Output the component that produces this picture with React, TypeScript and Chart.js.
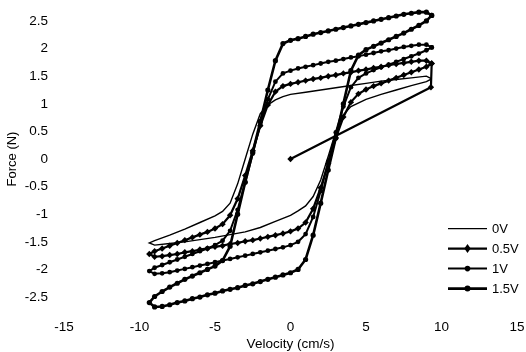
import React, { useEffect, useRef } from 'react';
import { Chart, registerables } from 'chart.js';

Chart.register(...registerables);

const seriesLabels = ['0V', '0.5V', '1V', '1.5V'];
const xTickValues = [-15, -10, -5, 0, 5, 10, 15];
const yTickValues = [-2.5, -2, -1.5, -1, -0.5, 0, 0.5, 1, 1.5, 2, 2.5];

// [velocity (cm/s), force (N)]
const loop0V: [number, number][] = [
  [9.35, 1.45], [9, 1.5], [8, 1.47], [7, 1.44], [6, 1.41], [5, 1.37], [4, 1.33], [3, 1.29], [2, 1.25], [1, 1.21],
  [0, 1.17], [-0.5, 1.13], [-1, 1.07], [-1.5, 0.98], [-2, 0.82], [-2.5, 0.45], [-3, 0.0], [-3.5, -0.45], [-4, -0.8],
  [-4.5, -0.95], [-5, -1.03], [-6, -1.15], [-7, -1.27], [-8, -1.38], [-9, -1.48], [-9.35, -1.52],
  [-9, -1.56], [-8, -1.53], [-7, -1.5], [-6, -1.46], [-5, -1.42], [-4, -1.37], [-3, -1.32], [-2, -1.24], [-1, -1.13],
  [0, -1.02], [0.5, -0.94], [1, -0.85], [1.5, -0.68], [2, -0.38], [2.5, 0.05], [3, 0.5], [3.5, 0.8], [4, 0.95],
  [5, 1.08], [6, 1.17], [7, 1.25], [8, 1.33], [9, 1.4], [9.35, 1.45],
];

const loop05V: [number, number][] = [
  [0, 0], [9.3, 1.3], [9.35, 1.73],
  [9, 1.78], [8.5, 1.78], [8, 1.76], [7.5, 1.74], [7, 1.72], [6.5, 1.7], [6, 1.67], [5.5, 1.65], [5, 1.62], [4.5, 1.6],
  [4, 1.57], [3.5, 1.55], [3, 1.52], [2.5, 1.5], [2, 1.47], [1.5, 1.45], [1, 1.42], [0.5, 1.39], [0, 1.36],
  [-0.5, 1.32], [-1, 1.22], [-1.5, 0.98], [-2, 0.6], [-2.5, 0.15], [-3, -0.3], [-3.5, -0.72], [-4, -1.02],
  [-4.5, -1.18], [-5, -1.26], [-5.5, -1.32], [-6, -1.37], [-6.5, -1.42], [-7, -1.47], [-7.5, -1.52], [-8, -1.57],
  [-8.5, -1.62], [-9, -1.67], [-9.35, -1.72],
  [-9, -1.77], [-8.5, -1.76], [-8, -1.74], [-7.5, -1.72], [-7, -1.69], [-6.5, -1.67], [-6, -1.64], [-5.5, -1.62],
  [-5, -1.59], [-4.5, -1.57], [-4, -1.54], [-3.5, -1.52], [-3, -1.49], [-2.5, -1.47], [-2, -1.44], [-1.5, -1.41],
  [-1, -1.38], [-0.5, -1.35], [0, -1.31], [0.5, -1.26], [1, -1.15], [1.5, -0.9], [2, -0.52], [2.5, -0.08],
  [3, 0.38], [3.5, 0.76], [4, 1.03], [4.5, 1.18], [5, 1.26], [5.5, 1.32], [6, 1.37], [6.5, 1.42], [7, 1.47],
  [7.5, 1.52], [8, 1.57], [8.5, 1.62], [9, 1.67], [9.35, 1.73],
];

const loop1V: [number, number][] = [
  [9.35, 2.02],
  [9, 2.07], [8.5, 2.07], [8, 2.05], [7.5, 2.03], [7, 2.0], [6.5, 1.97], [6, 1.95], [5.5, 1.92], [5, 1.89], [4.5, 1.86],
  [4, 1.84], [3.5, 1.81], [3, 1.78], [2.5, 1.76], [2, 1.73], [1.5, 1.7], [1, 1.67], [0.5, 1.64], [0, 1.6],
  [-0.5, 1.55], [-1, 1.4], [-1.5, 1.08], [-2, 0.62], [-2.5, 0.1], [-3, -0.42], [-3.5, -0.92], [-4, -1.3],
  [-4.5, -1.48], [-5, -1.56], [-5.5, -1.62], [-6, -1.67], [-6.5, -1.72], [-7, -1.77], [-7.5, -1.82], [-8, -1.87],
  [-8.5, -1.92], [-9, -1.97], [-9.35, -2.03],
  [-9, -2.08], [-8.5, -2.07], [-8, -2.05], [-7.5, -2.02], [-7, -1.99], [-6.5, -1.96], [-6, -1.93], [-5.5, -1.9],
  [-5, -1.87], [-4.5, -1.84], [-4, -1.81], [-3.5, -1.78], [-3, -1.75], [-2.5, -1.72], [-2, -1.69], [-1.5, -1.66],
  [-1, -1.63], [-0.5, -1.6], [0, -1.56], [0.5, -1.5], [1, -1.36], [1.5, -1.05], [2, -0.58], [2.5, -0.05],
  [3, 0.48], [3.5, 0.95], [4, 1.3], [4.5, 1.47], [5, 1.55], [5.5, 1.61], [6, 1.66], [6.5, 1.71], [7, 1.76],
  [7.5, 1.81], [8, 1.86], [8.5, 1.91], [9, 1.97], [9.35, 2.02],
];

const loop15V: [number, number][] = [
  [9.35, 2.6],
  [9, 2.66], [8.5, 2.66], [8, 2.64], [7.5, 2.62], [7, 2.59], [6.5, 2.56], [6, 2.53], [5.5, 2.5], [5, 2.47], [4.5, 2.44],
  [4, 2.41], [3.5, 2.38], [3, 2.35], [2.5, 2.32], [2, 2.29], [1.5, 2.26], [1, 2.22], [0.5, 2.18], [0, 2.15],
  [-0.5, 2.09], [-1, 1.78], [-1.5, 1.25], [-2, 0.68], [-2.5, 0.12], [-3, -0.42], [-3.5, -1.0], [-4, -1.58],
  [-4.5, -1.84], [-5, -1.94], [-5.5, -2.0], [-6, -2.06], [-6.5, -2.12], [-7, -2.18], [-7.5, -2.25], [-8, -2.32],
  [-8.5, -2.4], [-9, -2.49], [-9.35, -2.6],
  [-9, -2.68], [-8.5, -2.67], [-8, -2.64], [-7.5, -2.6], [-7, -2.57], [-6.5, -2.53], [-6, -2.5], [-5.5, -2.46],
  [-5, -2.43], [-4.5, -2.39], [-4, -2.36], [-3.5, -2.33], [-3, -2.29], [-2.5, -2.26], [-2, -2.22], [-1.5, -2.18],
  [-1, -2.14], [-0.5, -2.1], [0, -2.06], [0.5, -2.0], [1, -1.82], [1.5, -1.38], [2, -0.8], [2.5, -0.2],
  [3, 0.38], [3.5, 1.0], [4, 1.6], [4.5, 1.88], [5, 1.98], [5.5, 2.04], [6, 2.1], [6.5, 2.16], [7, 2.22],
  [7.5, 2.28], [8, 2.35], [8.5, 2.42], [9, 2.5], [9.35, 2.6],
];

const loops = [loop0V, loop05V, loop1V, loop15V];
const pointStyles = ['circle', 'rectRot', 'circle', 'circle'];
const pointRadii = [0, 3.2, 2.4, 2.6];
const lineWidths = [1.4, 2.2, 2, 2.6];

const FONT = "'Liberation Sans', Arial, Helvetica, sans-serif";

const legendPlugin = {
  id: 'customLegend',
  afterDraw(chart: any) {
    const ctx = chart.ctx;
    const area = chart.chartArea;
    const x0 = area.right - 69;
    const x1 = area.right - 30;
    const xm = (x0 + x1) / 2;
    const yStart = area.bottom - 85;
    ctx.save();
    chart.data.datasets.forEach((ds: any, i: number) => {
      const y = yStart + i * 20;
      ctx.strokeStyle = '#000';
      ctx.fillStyle = '#000';
      ctx.lineWidth = ds.borderWidth;
      ctx.beginPath();
      ctx.moveTo(x0, y);
      ctx.lineTo(x1, y);
      ctx.stroke();
      const r = ds.pointRadius;
      if (r > 0) {
        ctx.beginPath();
        if (ds.pointStyle === 'rectRot') {
          ctx.moveTo(xm, y - r * 1.4);
          ctx.lineTo(xm + r, y);
          ctx.lineTo(xm, y + r * 1.4);
          ctx.lineTo(xm - r, y);
          ctx.closePath();
        } else {
          ctx.arc(xm, y, r + 0.4, 0, Math.PI * 2);
        }
        ctx.fill();
      }
      ctx.font = `13px ${FONT}`;
      ctx.textAlign = 'left';
      ctx.textBaseline = 'middle';
      ctx.fillText(ds.label, x1 + 5, y + 1);
    });
    ctx.restore();
  },
};

export default function App() {
  const canvasRef = useRef<HTMLCanvasElement | null>(null);

  useEffect(() => {
    if (!canvasRef.current) return;
    const chart = new Chart(canvasRef.current, {
      type: 'scatter',
      data: {
        datasets: loops.map((loop, i) => ({
          label: seriesLabels[i],
          data: loop.map(([x, y]) => ({ x, y })),
          showLine: true,
          borderColor: '#000',
          backgroundColor: '#000',
          pointBackgroundColor: '#000',
          pointBorderColor: '#000',
          pointBorderWidth: 0,
          pointStyle: pointStyles[i] as any,
          pointRadius: pointRadii[i],
          borderWidth: lineWidths[i],
          tension: 0,
        })),
      },
      options: {
        responsive: false,
        animation: false,
        devicePixelRatio: 1,
        layout: { padding: { left: 0, right: 9, top: 4.4, bottom: 0 } },
        plugins: {
          legend: { display: false },
          tooltip: { enabled: false },
        },
        scales: {
          x: {
            type: 'linear',
            min: -15,
            max: 15,
            afterBuildTicks: (axis: any) => {
              axis.ticks = xTickValues.map((v) => ({ value: v }));
            },
            afterFit: (axis: any) => {
              axis.height = 38.4;
              axis.paddingLeft = 0;
              axis.paddingRight = 0;
            },
            ticks: {
              color: '#000',
              font: { family: FONT, size: 13.5 },
              padding: 6,
              maxRotation: 0,
              callback: (v: any) => String(v),
            },
            grid: { display: false, drawTicks: false },
            border: { display: false },
            title: {
              display: true,
              text: 'Velocity (cm/s)',
              color: '#000',
              font: { family: FONT, size: 13.5 },
              padding: { top: 0, bottom: 0 },
            },
          },
          y: {
            type: 'linear',
            min: -2.8,
            max: 2.8,
            afterBuildTicks: (axis: any) => {
              axis.ticks = yTickValues.map((v) => ({ value: v }));
            },
            afterFit: (axis: any) => {
              axis.width = 64;
              axis.paddingTop = 0;
              axis.paddingBottom = 0;
            },
            ticks: {
              color: '#000',
              font: { family: FONT, size: 13.5 },
              padding: 16,
              callback: (v: any) => String(v),
            },
            grid: { display: false, drawTicks: false },
            border: { display: false },
            title: {
              display: true,
              text: 'Force (N)',
              color: '#000',
              font: { family: FONT, size: 13 },
              padding: { top: 5, bottom: 0 },
            },
          },
        },
      },
      plugins: [legendPlugin],
    });
    return () => chart.destroy();
  }, []);

  return (
    <div style={{ position: 'fixed', left: 0, top: 0, width: 526, height: 352, background: '#fff' }}>
      <canvas ref={canvasRef} width={526} height={352} />
    </div>
  );
}
